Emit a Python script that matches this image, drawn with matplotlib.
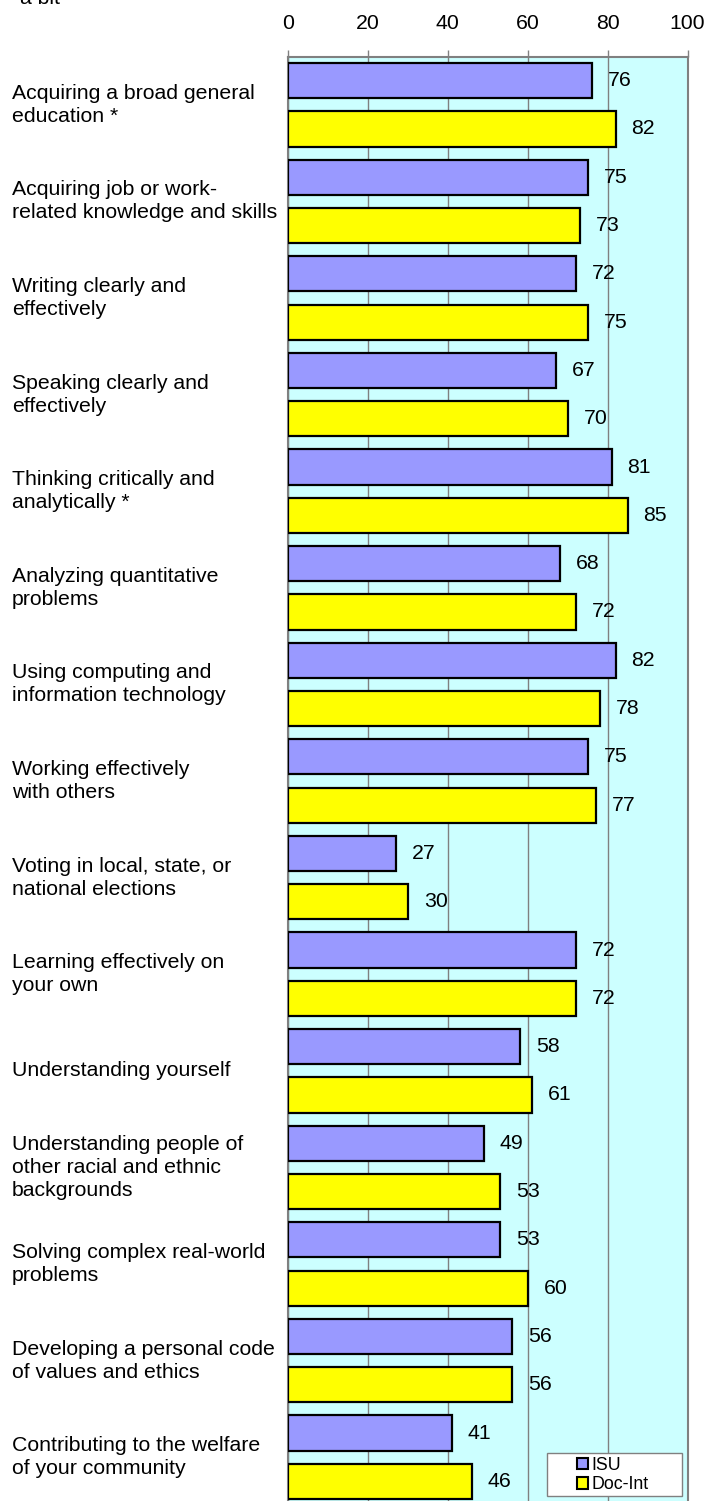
import matplotlib
matplotlib.use("Agg")
import matplotlib.pyplot as plt
from matplotlib.patches import Patch, Rectangle
import numpy as np

categories = [
    "Acquiring a broad general\neducation *",
    "Acquiring job or work-\nrelated knowledge and skills",
    "Writing clearly and\neffectively",
    "Speaking clearly and\neffectively",
    "Thinking critically and\nanalytically *",
    "Analyzing quantitative\nproblems",
    "Using computing and\ninformation technology",
    "Working effectively\nwith others",
    "Voting in local, state, or\nnational elections",
    "Learning effectively on\nyour own",
    "Understanding yourself",
    "Understanding people of\nother racial and ethnic\nbackgrounds",
    "Solving complex real-world\nproblems",
    "Developing a personal code\nof values and ethics",
    "Contributing to the welfare\nof your community",
]
isu = [76, 75, 72, 67, 81, 68, 82, 75, 27, 72, 58, 49, 53, 56, 41]
doc_int = [82, 73, 75, 70, 85, 72, 78, 77, 30, 72, 61, 53, 60, 56, 46]
x_ticks = [0, 20, 40, 60, 80, 100]

COLOR_ISU = "#9999FF"
COLOR_DOC = "#FFFF00"
BG = "#CCFFFF"
GRID = "#808080"

plt.rcParams.update({
    "font.family": ["Liberation Sans", "DejaVu Sans"],
    "font.size": 15,
})

W, H = 707, 1501
fig = plt.figure(figsize=(W / 100, H / 100), dpi=100)

# axes spans from x=0 at px 288 to x=100 at px 687; 15 groups of ~96.6 px from y=56
top_px, pitch = 56.5, 96.6
bottom_px = top_px + pitch * len(categories)
ax = fig.add_axes([288 / W, 1 - bottom_px / H, (687.5 - 288) / W, (bottom_px - top_px) / H])
ax.set_facecolor(BG)

n = len(categories)
pos = np.arange(n)
bar_h = 0.365
ax.barh(pos + 0.25, isu, height=bar_h, color=COLOR_ISU, edgecolor="black",
        linewidth=1.6, zorder=3, label="ISU")
ax.barh(pos + 0.75, doc_int, height=bar_h, color=COLOR_DOC, edgecolor="black",
        linewidth=1.6, zorder=3, label="Doc-Int")

for y, v in zip(pos + 0.25, isu):
    ax.annotate(str(v), (v, y), xytext=(11.5, 0), textcoords="offset points",
                va="center", ha="left", fontsize=15.3)
for y, v in zip(pos + 0.75, doc_int):
    ax.annotate(str(v), (v, y), xytext=(11.5, 0), textcoords="offset points",
                va="center", ha="left", fontsize=15.3)

ax.set_xlim(0, 100)
ax.set_ylim(n, 0)
ax.set_xticks(x_ticks)
ax.xaxis.tick_top()
ax.tick_params(axis="x", direction="out", length=5, width=1, color=GRID,
               pad=12, labelsize=15.3)
ax.set_yticks([])
ax.grid(axis="x", color=GRID, linewidth=1, zorder=1)
for side in ["top", "left", "right", "bottom"]:
    ax.spines[side].set_color(GRID)
    ax.spines[side].set_linewidth(1.5)

# category labels, left-aligned in the margin
for i, label in enumerate(categories):
    fig.text(12 / W, 1 - (top_px + pitch * (i + 0.5)) / H, label,
             ha="left", va="center", fontsize=15.3, linespacing=1.27)

# leftover of the cut-off title
fig.text(20 / W, 1 - 4 / H, "a bit", ha="left", va="baseline", fontsize=15.3)

# legend box
fig.patches.append(Rectangle((547 / W, 1 - 1496 / H), (682 - 547) / W, (1496 - 1453) / H,
                             transform=fig.transFigure, facecolor="white",
                             edgecolor=GRID, linewidth=1, zorder=5))
handles = [Patch(facecolor=COLOR_ISU, edgecolor="black", linewidth=1.5, label="ISU"),
           Patch(facecolor=COLOR_DOC, edgecolor="black", linewidth=1.5, label="Doc-Int")]
leg = fig.legend(handles=handles, loc="center", bbox_to_anchor=(613 / W, 1 - 1475 / H),
                 frameon=False, fontsize=12.8, handlelength=0.6, handleheight=0.6,
                 handletextpad=0.2, labelspacing=0.15, borderpad=0)
leg.set_zorder(6)

fig.savefig("out.png", dpi=100)
